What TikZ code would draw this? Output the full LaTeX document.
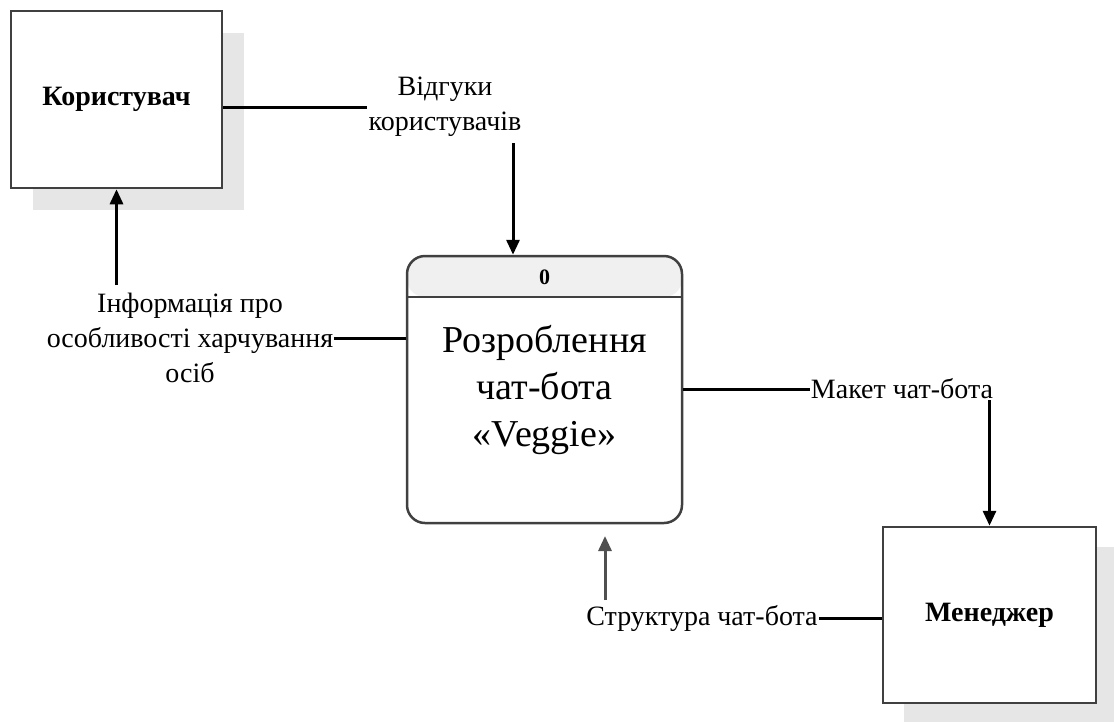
\documentclass[tikz,border=0pt]{standalone}
\usepackage{fontspec}
\setmainfont{Liberation Serif}
\usetikzlibrary{arrows.meta,calc}
\definecolor{boxline}{HTML}{404040}
\definecolor{shadowgray}{HTML}{E6E6E6}
\definecolor{hdrgray}{HTML}{F0F0F0}
\definecolor{arrgray}{HTML}{505050}
\begin{document}
\begin{tikzpicture}[x=1pt,y=-1pt,
  entity/.style={draw=boxline, line width=2.5pt, fill=white, minimum width=211pt, minimum height=177pt, inner sep=0pt, font=\fontsize{28}{34}\selectfont\bfseries},
  shadebox/.style={fill=shadowgray, minimum width=211pt, minimum height=177pt, inner sep=0pt},
  procbox/.style={draw=boxline, line width=2.5pt, fill=white, rounded corners=18pt, minimum width=275pt, minimum height=267pt, inner sep=0pt,
    path picture={\fill[hdrgray] (path picture bounding box.north west) rectangle ([yshift=-41pt]path picture bounding box.north east);}},
  lbl/.style={font=\fontsize{28}{35}\selectfont, align=center, inner sep=1pt},
  flow/.style={line width=3pt, black},
  flowarr/.style={flow, -{Triangle[length=15pt,width=13pt]}}
]
\useasboundingbox (0,0) rectangle (1114,721);
% external entities
\node[shadebox] (userSh) at (138.5,121) {};
\node[entity] (user) at (116.5,99.5) {Користувач};
\node[shadebox, minimum width=213pt, minimum height=176pt] (mgrSh) at (1010.5,635) {};
\node[entity, minimum width=213pt, minimum height=176pt] (mgr) at (989.5,615) {Менеджер};
% process
\node[procbox] (proc) at (544.5,389.5) {};
\coordinate (hdrY) at (0,297);
\draw[boxline, line width=2.5pt] (proc.west |- hdrY) -- (proc.east |- hdrY);
\node[font=\fontsize{22}{26}\selectfont\bfseries] (pid) at (544.5,277) {0};
\node[font=\fontsize{38}{47}\selectfont, align=center] (ptitle) at (544.5,390) {Розроблення\\чат-бота\\«Veggie»};
% labels
\node[lbl] (lblA) at (445,107) {Відгуки\\користувачів};
\node[lbl] (lblB) at (190,338) {Інформація про\\особливості харчування\\осіб};
\node[lbl] (lblC) at (902,389) {Макет чат-бота};
\node[lbl] (lblD) at (702,618) {Структура чат-бота};
% connectors
\draw[flow] (user.east |- lblA.west) -- (lblA.west);
\coordinate (a1) at (513,143);
\draw[flowarr] (a1) -- (a1 |- proc.north);
\coordinate (b1) at (116.5,285);
\draw[flowarr] (b1) -- (user.south);
\draw[flow] (lblB.east) -- (lblB.east -| proc.west);
\draw[flow] (proc.east) -- (proc.east -| lblC.west);
\draw[flowarr] (lblC.south -| mgr.north) -- (mgr.north);
\draw[flow] (lblD.east -| mgr.west) -- (lblD.east);
\coordinate (d1) at (605,600);
\coordinate (d2) at (605,536);
\draw[flowarr, arrgray] (d1) -- (d2);
\end{tikzpicture}
\end{document}
